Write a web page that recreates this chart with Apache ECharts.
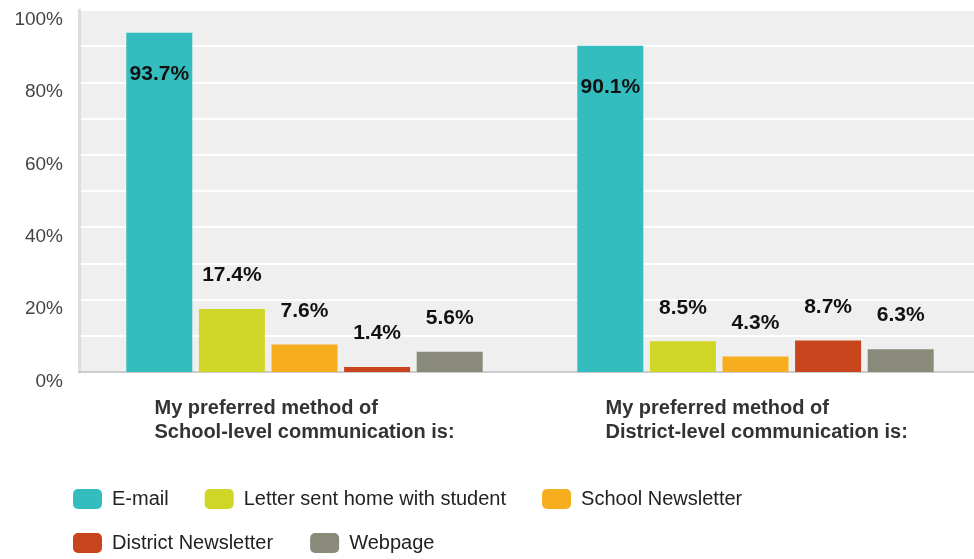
<!DOCTYPE html>
<html><head><meta charset="utf-8">
<script src="https://cdn.jsdelivr.net/npm/echarts@6/dist/echarts.min.js"></script>
<style>html,body{margin:0;padding:0;background:#fff}#c{width:974px;height:559px}</style>
</head><body><div id="c"></div>
<script>
const categories = ['My preferred method of\nSchool-level communication is:', 'My preferred method of\nDistrict-level communication is:'];
const seriesNames = ['E-mail', 'Letter sent home with student', 'School Newsletter', 'District Newsletter', 'Webpage'];
const email = [93.7, 90.1];
const letter = [17.4, 8.5];
const schoolNews = [7.6, 4.3];
const districtNews = [1.4, 8.7];
const webpage = [5.6, 6.3];
const yTicks = [0, 20, 40, 60, 80, 100];

const colors = ['#33bdbf', '#d0d626', '#f6ae1f', '#c8441c', '#8a8a7a'];
const values = [email, letter, schoolNews, districtNews, webpage];

const chart = echarts.init(document.getElementById('c'));
const series = values.map((vals, i) => ({
  name: seriesNames[i],
  type: 'bar',
  barWidth: 66,
  barGap: '10%',
  itemStyle: { color: colors[i] },
  data: vals,
  label: {
    show: true,
    position: i === 0 ? 'insideTop' : 'top',
    distance: i === 0 ? 31 : 23,
    formatter: p => p.value.toFixed(1) + '%',
    fontFamily: 'Liberation Sans, Arial, sans-serif',
    fontWeight: 'bold',
    fontSize: 21,
    color: '#111'
  }
}));

const legendText = {
  fontFamily: 'Liberation Sans, Arial, sans-serif',
  fontSize: 20,
  color: '#222',
  padding: [0, 0, 0, 5]
};

chart.setOption({
  animation: false,
  textStyle: { fontFamily: 'Liberation Sans, Arial, sans-serif' },
  grid: { left: 79, width: 902, top: 10, bottom: 187, outerBoundsMode: 'none', containLabel: false, show: true, backgroundColor: '#efefef', borderWidth: 0 },
  legend: [
    { data: seriesNames.slice(0, 3), left: 73, top: 489, padding: 0, itemWidth: 29, itemHeight: 20, itemGap: 36, icon: 'roundRect', textStyle: legendText, selectedMode: false },
    { data: seriesNames.slice(3), left: 73, top: 533, padding: 0, itemWidth: 29, itemHeight: 20, itemGap: 37, icon: 'roundRect', textStyle: legendText, selectedMode: false }
  ],
  xAxis: {
    type: 'category',
    data: categories,
    axisTick: { show: false },
    axisLine: { show: true, lineStyle: { color: '#cccccc', width: 2 } },
    axisLabel: {
      margin: 24,
      formatter: v => v.split('\n').map(l => '{a|' + l + '}').join('\n'),
      rich: {
        a: { width: 300, align: 'left', fontSize: 20, fontWeight: 'bold', color: '#333', lineHeight: 24, fontFamily: 'Liberation Sans, Arial, sans-serif' }
      }
    }
  },
  yAxis: {
    type: 'value',
    min: 0, max: 100, interval: 10,
    axisLine: { show: true, lineStyle: { color: '#dddddd', width: 3 } },
    axisTick: { show: false },
    splitLine: { show: true, lineStyle: { color: '#ffffff', width: 2 } },
    axisLabel: {
      margin: 16,
      verticalAlign: 'top',
      fontSize: 19,
      color: '#444',
      formatter: v => yTicks.includes(v) ? v + '%' : ''
    }
  },
  series: series
});
</script></body></html>
